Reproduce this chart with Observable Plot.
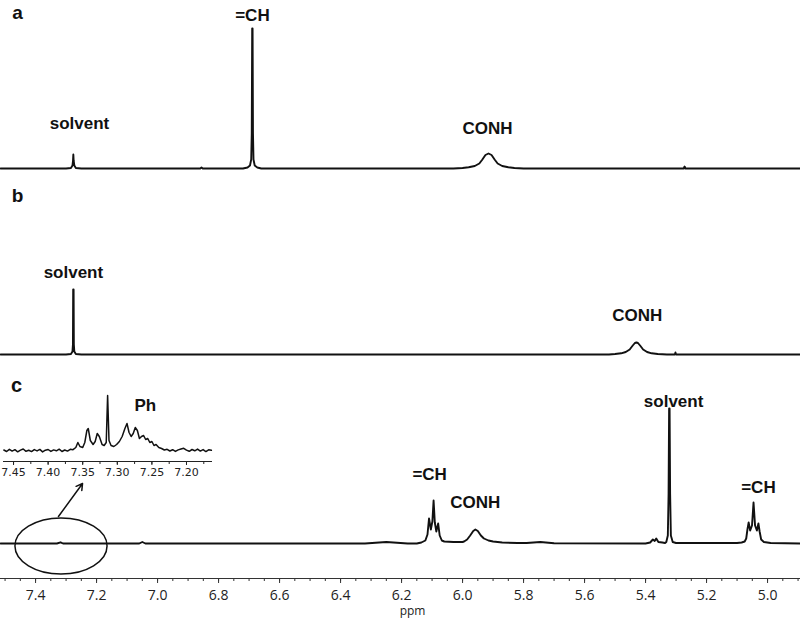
<!DOCTYPE html>
<html>
<head>
<meta charset="utf-8">
<script src="https://cdn.jsdelivr.net/npm/d3@7"></script>
<script src="https://cdn.jsdelivr.net/npm/@observablehq/plot@0.6"></script>
<style>
  body { margin: 0; background: #fff; }
  #wrap { position: relative; width: 800px; height: 618px; overflow: hidden; }
  #wrap svg { position: absolute; left: 0; }
</style>
</head>
<body>
<div id="wrap"></div>
<script>
// ---- x axis (ppm) ----
const xDomain = [7.515, 4.892];
const xTickLabels = [7.4, 7.2, 7.0, 6.8, 6.6, 6.4, 6.2, 6.0, 5.8, 5.6, 5.4, 5.2, 5.0];
const insetDomain = [7.4645, 7.1624];
const insetTickLabels = [7.45, 7.40, 7.35, 7.30, 7.25, 7.20];

// ---- trace baselines (intensity offsets) ----
const offsetA = 410, offsetB = 224, offsetC = 35;

// ---- spectrum a: [ppm, intensity] ----
const traceA = [
  [7.515, 0], [7.30, 0], [7.284, 0.5], [7.279, 3], [7.2772, 8], [7.2762, 14], [7.2752, 8], [7.273, 3], [7.268, 0.5], [7.25, 0],
  [6.86, 0], [6.856, 1], [6.852, 0],
  [6.72, 0], [6.705, 1], [6.697, 3], [6.693, 9], [6.6912, 35], [6.6898, 140], [6.6885, 140], [6.6872, 35], [6.6855, 9], [6.6815, 3], [6.673, 1], [6.66, 0],
  [6.03, 0], [6.0, 0.5], [5.98, 1.2], [5.96, 2.5], [5.945, 5], [5.935, 9], [5.925, 13.5], [5.915, 15], [5.905, 13.5], [5.895, 9], [5.885, 5], [5.87, 2.5], [5.85, 1.2], [5.83, 0.5], [5.80, 0],
  [5.275, 0], [5.272, 2], [5.269, 0],
  [4.892, 0]
];

// ---- spectrum b ----
const traceB = [
  [7.515, 0], [7.30, 0], [7.284, 0.5], [7.279, 3], [7.2775, 10], [7.2767, 65], [7.2753, 65], [7.2745, 10], [7.273, 3], [7.268, 0.5], [7.25, 0],
  [5.52, 0], [5.50, 0.5], [5.48, 1.2], [5.465, 2.5], [5.452, 5], [5.442, 9], [5.435, 11.5], [5.430, 12], [5.425, 11.5], [5.418, 9], [5.408, 5], [5.395, 2.5], [5.38, 1.2], [5.36, 0.5], [5.33, 0],
  [5.304, 0], [5.302, 2], [5.300, 0],
  [4.892, 0]
];

// ---- spectrum c ----
const traceC = [
  [7.515, 0], [7.33, 0], [7.318, 1.2], [7.31, 0],
  [7.06, 0], [7.05, 1.5], [7.04, 0],
  [6.32, 0], [6.25, 1.5], [6.18, 0],
  [6.15, 0], [6.135, 1], [6.122, 3], [6.115, 9], [6.110, 25], [6.104, 14], [6.099, 22], [6.095, 43], [6.091, 21], [6.086, 12], [6.080, 20], [6.075, 8], [6.068, 3], [6.06, 2], [6.03, 1.5], [6.00, 1.5],
  [5.995, 2], [5.985, 4], [5.975, 8], [5.965, 12.5], [5.958, 14], [5.950, 12.5], [5.940, 8], [5.930, 5], [5.915, 3], [5.90, 2], [5.87, 1], [5.82, 0.5],
  [5.79, 0.5], [5.745, 1.5], [5.70, 0.3],
  [5.40, 0], [5.385, 1], [5.376, 4], [5.370, 2.5], [5.365, 5], [5.358, 1.5], [5.345, 1], [5.336, 0.5],
  [5.332, 1.5], [5.327, 8], [5.3245, 50], [5.3228, 135], [5.3212, 135], [5.3195, 50], [5.317, 8], [5.311, 1.5], [5.30, 0.5],
  [5.10, 0.5], [5.085, 1], [5.075, 2], [5.070, 5], [5.066, 14], [5.062, 21], [5.057, 13], [5.051, 18], [5.046, 41], [5.041, 18], [5.035, 13], [5.030, 20], [5.026, 12], [5.021, 4], [5.012, 1.5], [4.99, 0.5],
  [4.892, 0]
];

// ---- inset (aromatic region of c), [ppm, intensity] ----
const insetBase = 11;
const insetTrace = [
  [7.464, 0.5], [7.460, -1], [7.456, 1.2], [7.452, -0.6], [7.448, 0.8], [7.444, -1.3], [7.440, 0.4], [7.436, 1.5],
  [7.432, -0.8], [7.428, 0.2], [7.424, -1.1], [7.420, 0.9], [7.416, -0.4], [7.412, 1.1], [7.408, -1.4], [7.404, 0.3],
  [7.400, 1.0], [7.396, -0.9], [7.392, 0.6], [7.388, -0.3], [7.384, 1.3], [7.380, -1.0], [7.376, 0.5], [7.372, -0.6],
  [7.368, 1.2], [7.364, 0.8], [7.360, 3], [7.357, 8], [7.354, 4], [7.350, 3], [7.347, 8], [7.344, 20], [7.342, 22],
  [7.339, 10], [7.335, 6], [7.332, 9], [7.329, 17], [7.326, 14], [7.322, 6], [7.319, 5], [7.316, 8], [7.314, 55],
  [7.312, 10], [7.309, 5], [7.305, 4], [7.301, 6], [7.297, 9], [7.293, 14], [7.289, 22], [7.286, 27], [7.283, 18],
  [7.280, 14], [7.277, 17], [7.274, 23], [7.271, 20], [7.268, 12], [7.265, 14], [7.262, 15], [7.259, 11], [7.256, 12],
  [7.253, 8], [7.250, 9], [7.247, 5], [7.244, 6], [7.240, 3], [7.236, 2], [7.232, 0.5], [7.228, 1.2], [7.224, -0.5],
  [7.220, 0.8], [7.216, -0.9], [7.212, 0.6], [7.208, 1.5], [7.204, 2.2], [7.200, 0.4], [7.196, -0.8], [7.192, 1.0],
  [7.188, -0.3], [7.184, 1.4], [7.180, -0.6], [7.176, 0.9], [7.172, -1.1], [7.168, 0.7], [7.164, 0.2]
];

// ---- annotations ----
const labelText = ["a", "=CH", "solvent", "CONH", "b", "solvent", "CONH", "c", "Ph", "=CH", "CONH", "solvent", "=CH"];
const labelX    = [7.459, 6.689, 7.256, 5.918, 7.459, 7.276, 5.427, 7.462, 7.040, 6.108, 5.958, 5.308, 5.030];
const labelY    = [566, 563, 455, 450, 383, 306, 263, 193, 173, 104, 76, 177, 91];
const labelSize = [19, 17, 17, 17, 19, 17, 17, 20, 17, 17, 17, 17, 17];

// ---- build tables ----
const rows = [
  ...traceA.map(([x, v]) => ({trace: "a", x, y: v + offsetA})),
  ...traceB.map(([x, v]) => ({trace: "b", x, y: v + offsetB})),
  ...traceC.map(([x, v]) => ({trace: "c", x, y: v + offsetC}))
];
const labels = labelText.map((t, i) => ({t, x: labelX[i], y: labelY[i], s: labelSize[i]}));
const minorTicks = d3.range(98, 151).map(d => d * 0.05);

const main = Plot.plot({
  width: 800, height: 618,
  marginTop: 0, marginBottom: 40, marginLeft: 0, marginRight: 0,
  x: {domain: xDomain},
  y: {domain: [0, 578], axis: null},
  style: {background: "transparent"},
  marks: [
    Plot.ruleY([0], {stroke: "#333", strokeWidth: 1}),
    Plot.axisX(minorTicks, {tickSize: 3, tickFormat: () => "", stroke: "#333", label: null}),
    Plot.axisX(xTickLabels, {tickSize: 5, tickPadding: 7, tickFormat: d3.format(".1f"), fontSize: 14, fontFamily: "Open Sans", fill: "#222", stroke: "#333", label: null}),
    Plot.text(["ppm"], {x: () => 6.164, y: () => -33, fontSize: 12, fontFamily: "Open Sans", fill: "#222"}),
    Plot.line(rows, {x: "x", y: "y", z: "trace", stroke: "#111", strokeWidth: 1.9}),
    Plot.text(labels, {x: "x", y: "y", text: "t", fontSize: d => d.s, fontWeight: "bold", fontFamily: "Liberation Sans", fill: "#111"}),
    Plot.arrow([{x1: 7.325, y1: 62, x2: 7.246, y2: 95}], {x1: "x1", y1: "y1", x2: "x2", y2: "y2", stroke: "#111", strokeWidth: 1.5, headLength: 7})
  ]
});
main.style.top = "0px";

// ellipse around the aromatic region (positions via Plot's scales)
const sx = main.scale("x"), sy = main.scale("y");
const cx = sx.apply(7.315), rx = sx.apply(7.315) - sx.apply(7.466);
const cy = sy.apply(32), ry = sy.apply(32) - sy.apply(60);
d3.select(main).append("ellipse")
  .attr("cx", cx).attr("cy", cy).attr("rx", Math.abs(rx)).attr("ry", Math.abs(ry))
  .attr("fill", "none").attr("stroke", "#111").attr("stroke-width", 1.5);

const insetRows = insetTrace.map(([x, v]) => ({x, y: v + insetBase}));
const insetMinor = d3.range(287, 299).map(d => d * 0.025);
const inset = Plot.plot({
  width: 220, height: 106,
  marginTop: 0, marginBottom: 25, marginLeft: 3, marginRight: 8,
  x: {domain: insetDomain},
  y: {domain: [0, 81], axis: null},
  style: {background: "transparent"},
  marks: [
    Plot.ruleY([0], {stroke: "#222", strokeWidth: 1}),
    Plot.axisX(insetMinor, {tickSize: 3, tickFormat: () => "", stroke: "#222", label: null}),
    Plot.axisX(insetTickLabels, {tickSize: 4, tickPadding: 3, tickFormat: d3.format(".2f"), fontSize: 11, fontFamily: "DejaVu Sans", fill: "#222", stroke: "#222", label: null}),
    Plot.line(insetRows, {x: "x", y: "y", stroke: "#111", strokeWidth: 1.5})
  ]
});
inset.style.top = "380px";

const wrap = document.getElementById("wrap");
wrap.appendChild(main);
wrap.appendChild(inset);
</script>
</body>
</html>
